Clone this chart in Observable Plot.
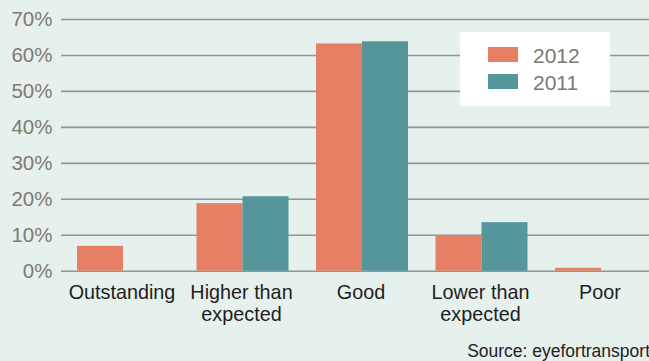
<!DOCTYPE html>
<html>
<head>
<meta charset="utf-8">
<script src="https://cdn.jsdelivr.net/npm/d3@7"></script>
<script src="https://cdn.jsdelivr.net/npm/@observablehq/plot@0.6"></script>
<style>
  html, body { margin: 0; padding: 0; overflow: hidden; background: #e6f0ed; }
  #wrap { position: relative; width: 649px; height: 361px; background: #e6f0ed;
          font-family: "Liberation Sans", Arial, Helvetica, sans-serif; }
  #legend { position: absolute; left: 460px; top: 32px; width: 150px; height: 74px; background: #ffffff; }
  .sw { position: absolute; left: 28px; width: 30px; height: 15px; }
  .lt { position: absolute; left: 73px; font-size: 21px; line-height: 21px; color: #7c786f; }
  #source { position: absolute; right: -1px; top: 343px; font-size: 17.5px; line-height: 17.5px; color: #222; white-space: nowrap; }
</style>
</head>
<body>
<div id="wrap"></div>
<script>
// Survey response categories and shares (%) per year
const categories = ["Outstanding", "Higher than\nexpected", "Good", "Lower than\nexpected", "Poor"];
const values2012 = [6.9, 18.8, 63.2, 9.7, 0.8];
const values2011 = [0, 20.7, 63.8, 13.5, 0];
const yTicks = [0, 10, 20, 30, 40, 50, 60, 70];
const seriesNames = ["2012", "2011"];
const seriesColors = ["#e67f63", "#55969b"];
const sourceText = "Source: eyefortransport";

const rows2012 = categories.map((c, i) => ({category: c, value: values2012[i]}));
const rows2011 = categories.map((c, i) => ({category: c, value: values2011[i]}));

const chart = Plot.plot({
  width: 649,
  height: 361,
  marginLeft: 61,
  marginRight: 0,
  marginTop: 19,
  marginBottom: 90.3,
  style: {background: "transparent", fontFamily: "'Liberation Sans', Arial, Helvetica, sans-serif"},
  x: {domain: categories, range: [63.25, 660.75], padding: 0, round: false, axis: null},
  y: {domain: [0, 70], axis: null},
  marks: [
    Plot.ruleY(yTicks, {stroke: "#8f9695", strokeWidth: 1.6}),
    Plot.barY(rows2012, {x: "category", y: "value", fill: seriesColors[0], insetLeft: 13.75, insetRight: 59.75}),
    Plot.barY(rows2011, {x: "category", y: "value", fill: seriesColors[1], insetLeft: 59.75, insetRight: 13.75}),
    Plot.axisY(yTicks, {
      tickSize: 0, tickPadding: 9, fontSize: 20.5, color: "#7d7a72",
      tickFormat: d => d + "%", label: null
    }),
    Plot.text(categories, {
      x: d => d, text: d => d, frameAnchor: "bottom", lineAnchor: "top",
      dx: -1.5, dy: 11.6, fontSize: 19.8, lineHeight: 1.13, fill: "#1e1e1e"
    })
  ]
});

const wrap = document.getElementById("wrap");
wrap.appendChild(chart);

// Legend box
const legend = document.createElement("div");
legend.id = "legend";
seriesNames.forEach((name, i) => {
  const sw = document.createElement("div");
  sw.className = "sw";
  sw.style.top = (15 + i * 27) + "px";
  sw.style.background = seriesColors[i];
  legend.appendChild(sw);
  const lt = document.createElement("div");
  lt.className = "lt";
  lt.style.top = (12.5 + i * 27) + "px";
  lt.textContent = name;
  legend.appendChild(lt);
});
wrap.appendChild(legend);

// Source note
const src = document.createElement("div");
src.id = "source";
src.textContent = sourceText;
wrap.appendChild(src);
</script>
</body>
</html>
